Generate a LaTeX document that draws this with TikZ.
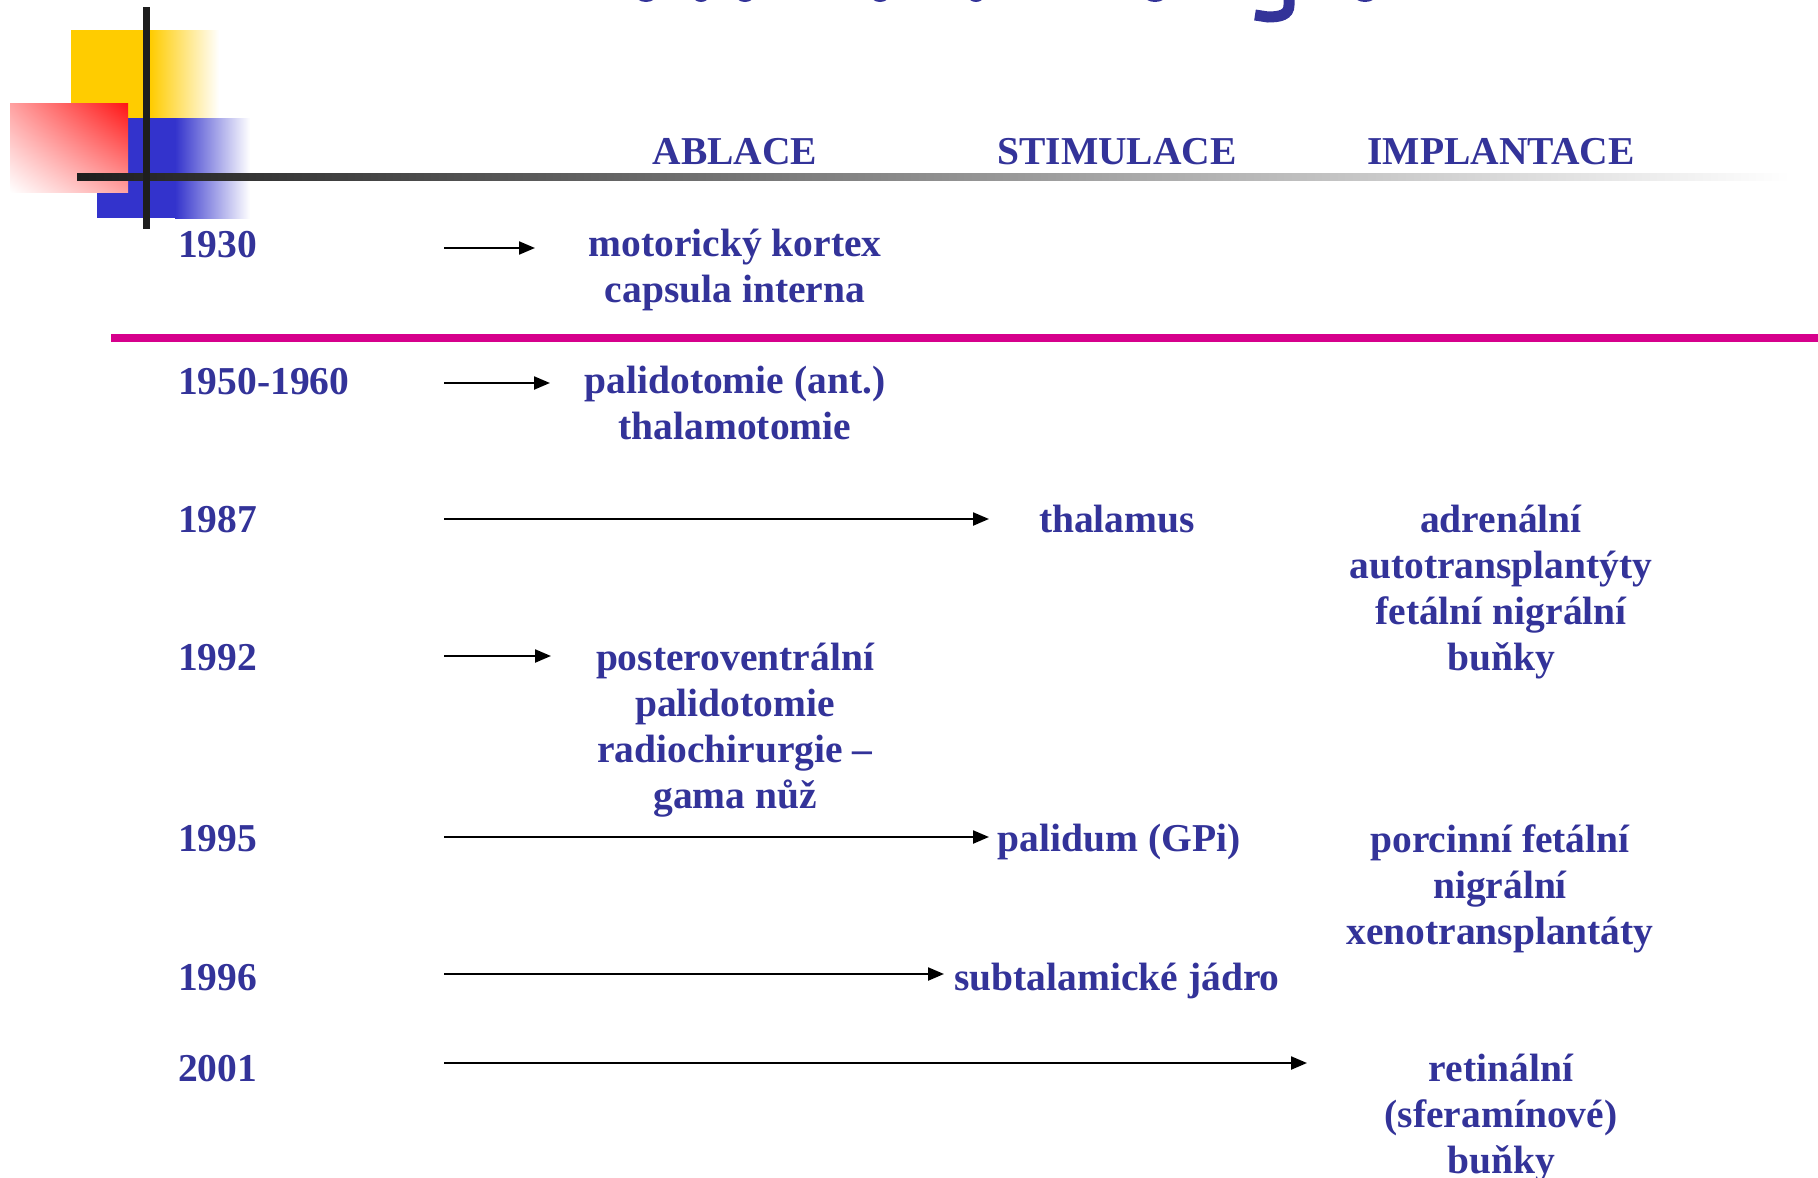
\documentclass[tikz,border=0pt]{standalone}
\usepackage{fontspec}
\setmainfont{Liberation Serif}
\usetikzlibrary{arrows.meta,shadings}
\definecolor{txtblue}{RGB}{51,51,153}
\definecolor{magline}{RGB}{214,0,140}
\definecolor{sqyellow}{RGB}{255,204,0}
\definecolor{sqblue}{RGB}{51,51,204}
\definecolor{sqred}{RGB}{255,20,20}
\definecolor{barblack}{RGB}{30,30,30}
\begin{document}
\begin{tikzpicture}[x=1pt,y=-1pt,
  lbl/.style={text=txtblue, font=\fontsize{39.5}{46}\selectfont\bfseries, inner sep=0pt},
  yr/.style={lbl, anchor=base west},
  cell/.style={lbl, anchor=base, align=center},
  arr/.style={-{Triangle[length=16pt,width=13pt]}, line width=2.2pt, black}]
\useasboundingbox (0,0) rectangle (1818,1178);
\fill[white] (0,0) rectangle (1818,1178);

% title fragments (cut off at the top edge)
\begin{scope}
  \clip (0,0) rectangle (1818,40);
  \foreach \cx/\rx in {646/11, 701/9, 745/10, 880/10, 976/9, 1155/12, 1365/12}
    \fill[txtblue] (\cx,-6) ellipse [x radius=\rx, y radius=8];
  \draw[txtblue, line width=11pt] (1289,-5) -- (1289,5) .. controls (1289,15) and (1280,17) .. (1268,17) -- (1255,15);
\end{scope}

% corner decoration
\fill[sqyellow] (71,30) rectangle (151,118);
\shade[left color=sqyellow, right color=white] (150,30) rectangle (219,118);
\fill[sqblue] (97,118) rectangle (176,218);
\shade[left color=sqblue, right color=white] (175,118) rectangle (250,218);
\shade[upper right=sqred, lower left=white, upper left=sqred!40!white, lower right=sqred!40!white] (10,103) rectangle (128,192);
\shade[left color=barblack, right color=white] (77,173) rectangle (1790,180);
\fill[barblack] (143,7) rectangle (150,229);

% magenta separator
\draw[magline, line width=8pt] (111,337.5) -- (1818,337.5);

% headers
\node[lbl, anchor=base] (hAbl) at (735,164) {ABLACE};
\node[lbl, anchor=base] (hStim) at (1117,164) {STIMULACE};
\node[lbl, anchor=base] (hImpl) at (1501,164) {IMPLANTACE};

% years
\node[yr] (y1930) at (178,257) {1930};
\node[yr] (y1950) at (178,394) {1950-1960};
\node[yr] (y1987) at (178,532) {1987};
\node[yr] (y1992) at (178,670) {1992};
\node[yr] (y1995) at (178,851) {1995};
\node[yr] (y1996) at (178,990) {1996};
\node[yr] (y2001) at (178,1081) {2001};

% ablace column (anchor = baseline of the last line)
\node[cell] (t1930) at (735,302) {motorický kortex\\capsula interna};
\node[cell] (t1950) at (735,439) {palidotomie (ant.)\\thalamotomie};
\node[cell] (t1992) at (735,808) {posteroventrální\\palidotomie\\radiochirurgie –\\gama nůž};

% stimulace column
\node[cell] (s1987) at (1117,532) {thalamus};
\node[cell] (s1995) at (1119,851) {palidum (GPi)};
\node[cell] (s1996) at (1117,990) {subtalamické jádro};

% implantace column
\node[cell] (i1987) at (1501,670) {adrenální\\autotransplantýty\\fetální nigrální\\buňky};
\node[cell] (i1995) at (1500,944) {porcinní fetální\\nigrální\\xenotransplantáty};
\node[cell] (i2001) at (1501,1173) {retinální\\(sferamínové)\\buňky};

% arrows
\coordinate (a1s) at (444,248);  \coordinate (a1e) at (535,248);
\coordinate (a2s) at (444,383);  \coordinate (a2e) at (550,383);
\coordinate (a3s) at (444,519);  \coordinate (a3e) at (989,519);
\coordinate (a4s) at (444,656);  \coordinate (a4e) at (551,656);
\coordinate (a5s) at (444,837);  \coordinate (a5e) at (989,837);
\coordinate (a6s) at (444,974);  \coordinate (a6e) at (944,974);
\coordinate (a7s) at (444,1063); \coordinate (a7e) at (1307,1063);
\draw[arr] (a1s) -- (a1e);
\draw[arr] (a2s) -- (a2e);
\draw[arr] (a3s) -- (a3e);
\draw[arr] (a4s) -- (a4e);
\draw[arr] (a5s) -- (a5e);
\draw[arr] (a6s) -- (a6e);
\draw[arr] (a7s) -- (a7e);
\end{tikzpicture}
\end{document}
